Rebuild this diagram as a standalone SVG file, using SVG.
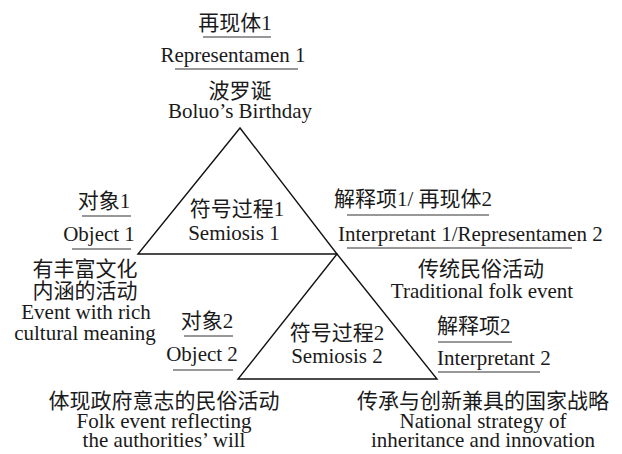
<svg xmlns="http://www.w3.org/2000/svg" width="622" height="454" viewBox="0 0 622 454">
<style>
text{font-family:"Liberation Serif","Noto Sans CJK SC",serif;font-size:21px;fill:#1a1a1a}
.c{text-anchor:middle}
.s{text-anchor:start}
.u{stroke:#333;stroke-width:1.2}
.t{fill:none;stroke:#111;stroke-width:1.4;stroke-linejoin:miter}
</style>
<rect width="622" height="454" fill="#fff"/>
<g id="connectors">
<polygon class="t" points="240,128 138,254 337,254"/>
<polygon class="t" points="337,254 238,379 437,379"/>
</g>
<g id="representamen1">
<text class="c" x="235" y="30">再现体1</text>
<line class="u" x1="203" y1="37" x2="271" y2="37"/>
<text class="c" x="233" y="62">Representamen 1</text>
<line class="u" x1="175" y1="69" x2="298" y2="69"/>
<text class="c" x="240" y="98">波罗诞</text>
<text class="c" x="240" y="118">Boluo’s Birthday</text>
</g>
<g id="semiosis1">
<text class="c" x="237" y="216">符号过程1</text>
<text class="c" x="234" y="240">Semiosis 1</text>
</g>
<g id="object1">
<text class="c" x="104" y="208">对象1</text>
<line class="u" x1="82" y1="216" x2="131" y2="216"/>
<text class="c" x="99" y="241">Object 1</text>
<line class="u" x1="72" y1="249" x2="131" y2="249"/>
<text class="c" x="85" y="276">有丰富文化</text>
<text class="c" x="85" y="298">内涵的活动</text>
<text class="c" x="86" y="319">Event with rich</text>
<text class="c" x="85" y="340">cultural meaning</text>
</g>
<g id="interpretant1">
<text class="s" x="334" y="206">解释项1/ 再现体2</text>
<line class="u" x1="347" y1="215" x2="489" y2="215"/>
<text class="s" x="338" y="241">Interpretant 1/Representamen 2</text>
<line class="u" x1="347" y1="248" x2="572" y2="248"/>
<text class="c" x="481" y="276">传统民俗活动</text>
<text class="c" x="482" y="298">Traditional folk event</text>
</g>
<g id="object2">
<text class="c" x="207" y="328">对象2</text>
<line class="u" x1="184" y1="336" x2="233" y2="336"/>
<text class="c" x="202" y="361">Object 2</text>
<line class="u" x1="173" y1="370" x2="233" y2="370"/>
<text class="c" x="164" y="408">体现政府意志的民俗活动</text>
<text class="c" x="164" y="428">Folk event reflecting</text>
<text class="c" x="164" y="447">the authorities’ will</text>
</g>
<g id="semiosis2">
<text class="c" x="337" y="340">符号过程2</text>
<text class="c" x="337" y="363">Semiosis 2</text>
</g>
<g id="interpretant2">
<text class="s" x="437" y="333">解释项2</text>
<line class="u" x1="438" y1="342" x2="512" y2="342"/>
<text class="s" x="437" y="365">Interpretant 2</text>
<line class="u" x1="438" y1="372" x2="540" y2="372"/>
<text class="c" x="483" y="408">传承与创新兼具的国家战略</text>
<text class="c" x="483" y="428">National strategy of</text>
<text class="c" x="483" y="447">inheritance and innovation</text>
</g>
</svg>
